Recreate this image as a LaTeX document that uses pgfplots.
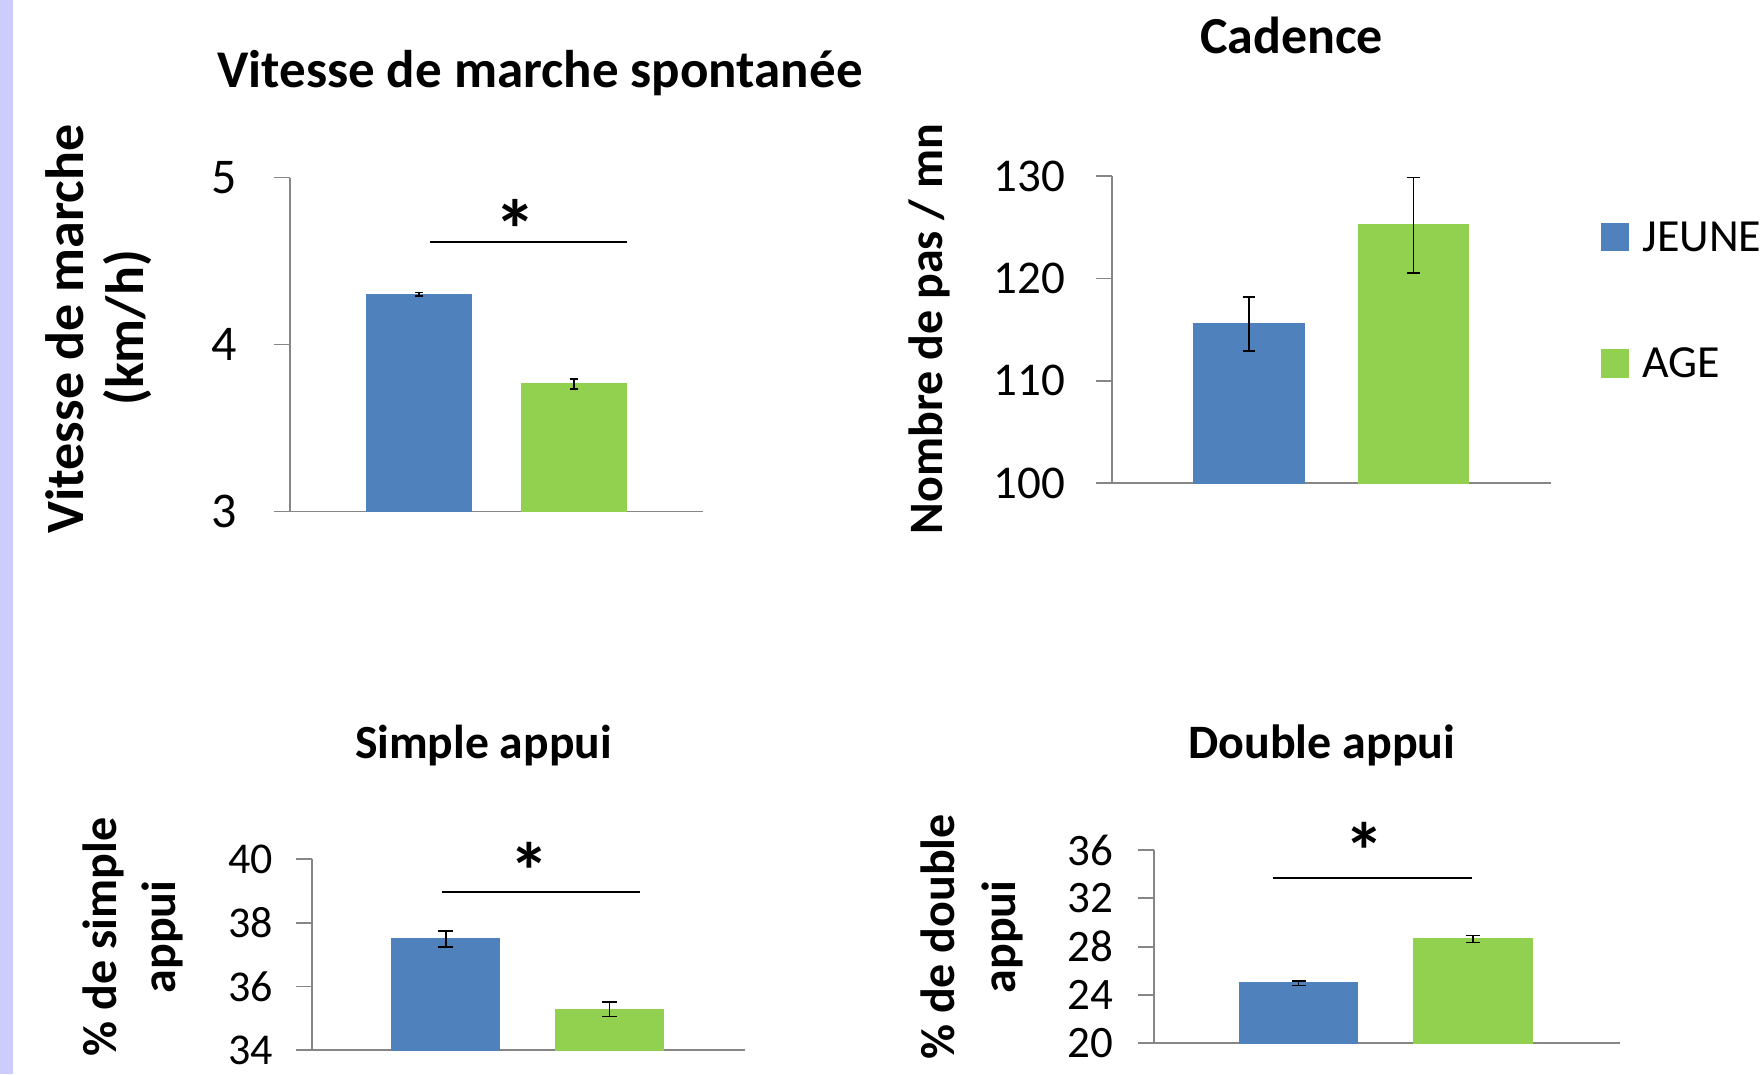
\documentclass[border=0pt]{standalone}
\usepackage{fontspec}
\setmainfont{Carlito}
\usepackage{pgfplots}
\pgfplotsset{compat=1.18}
\definecolor{jblue}{HTML}{4F81BD}
\definecolor{agreen}{HTML}{92D050}
\definecolor{axgray}{HTML}{868686}
\definecolor{stripe}{HTML}{CCCCFF}
\newcommand{\fs}[2]{\fontsize{#1}{#2}\selectfont}
\pgfplotsset{
  panel/.style={
    scale only axis,
    axis x line=bottom, axis y line=left,
    axis line style={-, draw=axgray, line width=0.45pt},
    xtick=\empty,
    tick align=outside,
    major tick length=4pt,
    every tick/.style={draw=axgray, line width=0.45pt},
    ytick pos=left,
    /pgf/number format/assume math mode=true,
    ybar, bar shift=0pt,
    clip=false,
    enlargelimits=false,
  },
  errb/.style={
    /pgfplots/error bars/y dir=both,
    /pgfplots/error bars/y explicit,
    /pgfplots/error bars/error bar style={draw=black, line width=0.4pt, solid},
    /pgfplots/error bars/error mark options={draw=black, line width=0.4pt, mark size=#1, rotate=90},
  },
  sig/.style={sharp plot, draw=black, line width=0.5pt, no marks, forget plot},
}
\begin{document}
\begin{tikzpicture}
\useasboundingbox (0pt,0pt) rectangle (440.25pt,268.5pt);
\fill[stripe] (0pt,0pt) rectangle (3.3pt,268.5pt);

% ---------- Vitesse ----------
\node[anchor=base, font=\bfseries\fs{13.25}{16}] at (135pt,246.6pt) {Vitesse de marche spontanée};
\node[anchor=base, rotate=90, font=\bfseries\fs{13.5}{16}] at (20.75pt,186.25pt) {Vitesse de marche};
\node[anchor=base, rotate=90, font=\bfseries\fs{13.5}{16}] at (35.75pt,186.5pt) {(km/h)};
\begin{axis}[panel, at={(72.5pt,140.65pt)}, anchor=south west,
  width=103.25pt, height=83.475pt,
  xmin=0.1677, xmax=2.832, ymin=3, ymax=5, ytick={3,4,5}, bar width=0.671,
  yticklabel style={font=\fs{12.5}{15}, inner sep=0pt, xshift=-9pt}]
\addplot[fill=jblue, draw=jblue, errb=1.1pt] coordinates {(1,4.30) +- (0,0.01)};
\addplot[fill=agreen, draw=agreen, errb=1.1pt] coordinates {(2,3.763) +- (0,0.03)};
\addplot[sig] coordinates {(1.074,4.613) (2.342,4.613)};
\node[anchor=base, inner sep=0pt, font=\bfseries\fs{21}{22}] at (axis cs:1.619,4.51) {*};
\end{axis}

% ---------- Cadence ----------
\node[anchor=base, font=\bfseries\fs{13}{16}] at (322.9pt,255.1pt) {Cadence};
\node[anchor=base, rotate=90, font=\bfseries\fs{12}{14}] at (235.5pt,186.25pt) {Nombre de pas / mn};
\begin{axis}[panel, at={(278pt,147.7pt)}, anchor=south west,
  width=109.75pt, height=76.8pt,
  xmin=0.1667, xmax=2.837, ymin=100, ymax=130, ytick={100,110,120,130}, bar width=0.669,
  yticklabel style={font=\fs{11.75}{14}, inner sep=0pt, xshift=-7.5pt},
  legend style={at={(1.1116,0.8503)}, anchor=north west, draw=none, fill=none,
    inner sep=0pt, font=\fs{11.5}{13.5}, row sep=20pt, column sep=3.25pt,
    nodes={inner sep=0pt}},
  legend cell align=left]
\addlegendimage{legend image code/.code={\fill[jblue] (0pt,0.4pt) rectangle (6.75pt,7.1pt);}}
\addlegendentry{\raisebox{3.1pt}[7.25pt][0pt]{JEUNE}}
\addlegendimage{legend image code/.code={\fill[agreen] (0pt,0.4pt) rectangle (6.75pt,7.1pt);}}
\addlegendentry{\raisebox{3.1pt}[7.25pt][0pt]{AGE}}
\addplot[fill=jblue, draw=jblue, errb=1.6pt, forget plot] coordinates {(1,115.55) +- (0,2.62)};
\addplot[fill=agreen, draw=agreen, errb=1.6pt, forget plot] coordinates {(2,125.2) +- (0,4.65)};
\end{axis}

% ---------- Simple appui ----------
\node[anchor=base, font=\bfseries\fs{11.9}{14}] at (120.85pt,78.9pt) {Simple appui};
\node[anchor=base, rotate=90, font=\bfseries\fs{12}{14}] at (29pt,34.25pt) {\% de simple};
\node[anchor=base, rotate=90, font=\bfseries\fs{12}{14}] at (44pt,34.25pt) {appui};
\begin{axis}[panel, at={(77.925pt,6pt)}, anchor=south west,
  width=108.325pt, height=47.675pt,
  xmin=0.182, xmax=2.826, ymin=34, ymax=40, ytick={34,36,38,40}, bar width=0.653,
  yticklabel style={font=\fs{11}{13}, inner sep=0pt, xshift=-5.5pt}]
\addplot[fill=jblue, draw=jblue, errb=1.9pt] coordinates {(1,37.49) +- (0,0.245)};
\addplot[fill=agreen, draw=agreen, errb=1.9pt] coordinates {(2,35.28) +- (0,0.23)};
\addplot[sig] coordinates {(0.977,38.96) (2.185,38.96)};
\node[anchor=base, inner sep=0pt, font=\bfseries\fs{20}{21}] at (axis cs:1.508,38.74) {*};
\end{axis}

% ---------- Double appui ----------
\node[anchor=base, font=\bfseries\fs{12}{14}] at (330.45pt,78.75pt) {Double appui};
\node[anchor=base, rotate=90, font=\bfseries\fs{12}{14}] at (238.5pt,34.25pt) {\% de double};
\node[anchor=base, rotate=90, font=\bfseries\fs{12}{14}] at (253.9pt,34.25pt) {appui};
\begin{axis}[panel, at={(288.4pt,7.675pt)}, anchor=south west,
  width=116.7pt, height=48.325pt,
  xmin=0.167, xmax=2.848, ymin=20, ymax=36, ytick={20,24,28,32,36}, bar width=0.678,
  yticklabel style={font=\fs{11.25}{13}, inner sep=0pt, xshift=-6pt}]
\addplot[fill=jblue, draw=jblue, errb=1.75pt] coordinates {(1,24.97) +- (0,0.17)};
\addplot[fill=agreen, draw=agreen, errb=1.75pt] coordinates {(2,28.63) +- (0,0.28)};
\addplot[sig] coordinates {(0.853,33.7) (1.993,33.7)};
\node[anchor=base, inner sep=0pt, font=\bfseries\fs{20}{21}] at (axis cs:1.375,33.56) {*};
\end{axis}
\end{tikzpicture}
\end{document}
